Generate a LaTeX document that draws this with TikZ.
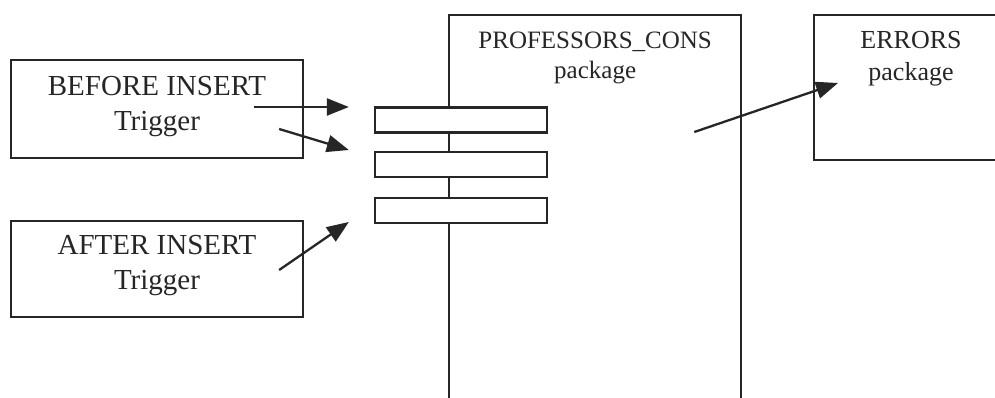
\documentclass[tikz,border=0pt]{standalone}
\usepackage{fontspec}
\setmainfont{Liberation Serif}
\usetikzlibrary{arrows.meta,positioning,calc}
\definecolor{ink}{HTML}{262626}
\tikzset{
  box/.style={draw=ink, line width=2.3pt, inner sep=0pt},
  port/.style={box, fill=white, minimum width=172pt, minimum height=25pt},
  lbl/.style={align=center, text=ink, inner sep=0pt},
  link/.style={draw=ink, line width=2.3pt, -{Triangle[length=22pt,width=17pt]}}
}
\begin{document}
\begin{tikzpicture}[x=1pt,y=-1pt]
				\useasboundingbox (0,0) rectangle (995,398);
				\fill[white] (0,0) rectangle (995,398);
				\begin{scope}
					\clip (0,0) rectangle (995,398);
					% the two trigger boxes
					\node[box, minimum width=292pt, minimum height=98pt] (before) at (157,109) {};
					\node[lbl, font=\fontsize{29}{35}\selectfont] at ($(before.center)+(0,-2)$) {BEFORE INSERT\\Trigger};
					\node[box, minimum width=292pt, minimum height=96pt] (after) at (157,269) {};
					\node[lbl, font=\fontsize{29}{35}\selectfont] at ($(after.center)+(0,-3)$) {AFTER INSERT\\Trigger};
					% packages, open at the bottom and at the right
					\node[box, minimum width=292pt, minimum height=420pt, anchor=north west] (prof) at (448,14) {};
					\node[lbl, font=\fontsize{25}{30}\selectfont, below=18pt of prof.north] {PROFESSORS\_CONS\\package};
					\node[box, minimum width=220pt, minimum height=145pt, anchor=north west] (errors) at (813,14) {};
					\node[lbl, font=\fontsize{26}{32}\selectfont] at (911,59) {ERRORS\\package};
					% interface ports on the package edge
					\node[port] (port1) at (461,120) {};
					\node[port] (port2) at (461,164.5) {};
					\node[port] (port3) at (461,210.5) {};
					% calls
					\draw[link] ($(before.east)+(-50,-2)$) -- ($(port1.west)+(-25,-13)$);
					\draw[link] ($(before.east)+(-25,20)$) -- ($(port2.west)+(-25,-14.5)$);
					\draw[link] ($(after.east)+(-25,1)$) -- ($(port3.west)+(-25,11.5)$);
					\draw[link] ($(prof.north east)+(-48,118)$) -- ($(errors.north west)+(25,69)$);
				\end{scope}
\end{tikzpicture}
\end{document}
